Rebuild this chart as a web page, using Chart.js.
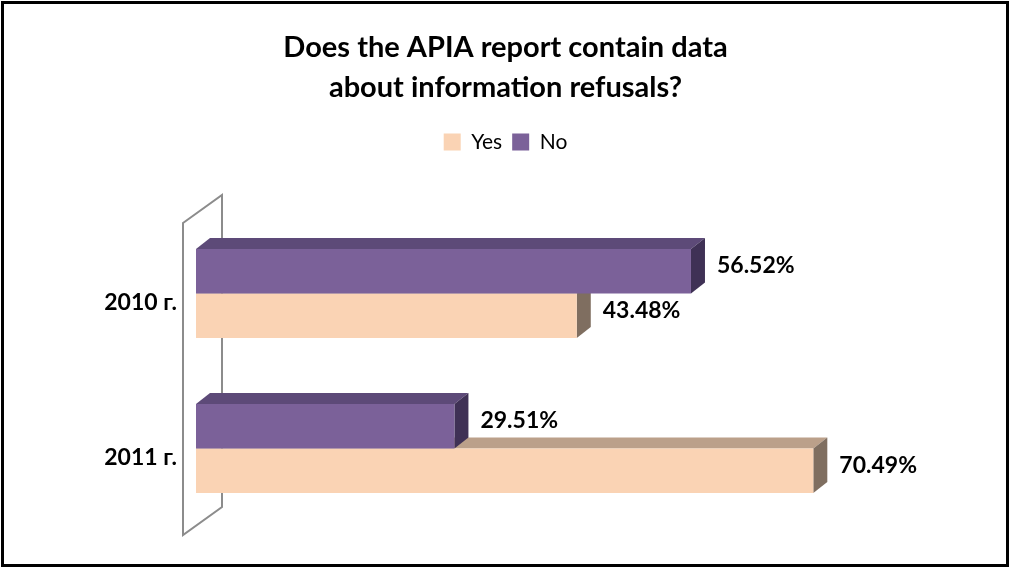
<!DOCTYPE html>
<html lang="en">
<head>
  <meta charset="UTF-8" />
  <title>APIA report – information refusals</title>
  <style>
    body {
      margin: 0;
      background: #fff;
    }
    #chart {
      display: block;
    }
  </style>
</head>
<body>

<canvas id="chart" width="1011" height="569"></canvas>

<script src="https://cdn.jsdelivr.net/npm/chart.js"></script>
<script>
  const categories = ['2010 г.', '2011 г.'];
  const yesValues = [43.48, 70.49];
  const noValues = [56.52, 29.51];

  const FONT = 'Lato, "Open Sans", sans-serif';
  const depth = {x: 14, y: -11};

  // fake 3D: top and side faces behind the flat bars, plus the back wall
  const bar3d = {
    id: 'bar3d',
    beforeDatasetsDraw(chart) {
      const ctx = chart.ctx;
      const area = chart.chartArea;
      ctx.save();

      // back wall outline
      const wl = area.left - 13, wr = area.left + 26;
      ctx.strokeStyle = '#8c8c8c';
      ctx.lineWidth = 2;
      ctx.beginPath();
      ctx.moveTo(wl, area.top + 7);
      ctx.lineTo(wr, area.top - 21);
      ctx.lineTo(wr, area.bottom - 19);
      ctx.lineTo(wl, area.bottom + 9);
      ctx.closePath();
      ctx.stroke();

      for (let d = chart.data.datasets.length - 1; d >= 0; d--) {
        const ds = chart.data.datasets[d];
        const meta = chart.getDatasetMeta(d);
        meta.data.forEach(bar => {
          const {x, y, base, height} = bar.getProps(['x', 'y', 'base', 'height'], true);
          const top = y - height / 2, bottom = y + height / 2;
          ctx.fillStyle = ds.topColor;
          ctx.beginPath();
          ctx.moveTo(base, top);
          ctx.lineTo(base + depth.x, top + depth.y);
          ctx.lineTo(x + depth.x, top + depth.y);
          ctx.lineTo(x, top);
          ctx.closePath();
          ctx.fill();

          ctx.fillStyle = ds.sideColor;
          ctx.beginPath();
          ctx.moveTo(x, top);
          ctx.lineTo(x + depth.x, top + depth.y);
          ctx.lineTo(x + depth.x, bottom + depth.y);
          ctx.lineTo(x, bottom);
          ctx.closePath();
          ctx.fill();
        });
      }
      ctx.restore();
    },
    afterDatasetsDraw(chart) {
      const ctx = chart.ctx;
      ctx.save();
      ctx.font = 'bold 23px ' + FONT;
      ctx.fillStyle = '#000';
      ctx.textAlign = 'left';
      ctx.textBaseline = 'middle';
      chart.data.datasets.forEach((ds, d) => {
        chart.getDatasetMeta(d).data.forEach((bar, i) => {
          ctx.fillText(ds.data[i].toFixed(2) + '%', bar.x + depth.x + 12, bar.y + depth.y / 2);
        });
      });
      ctx.restore();
    },
    afterDraw(chart) {
      const ctx = chart.ctx;
      ctx.save();
      ctx.strokeStyle = '#000';
      ctx.lineWidth = 3;
      ctx.strokeRect(2.5, 2.5, 1005, 563);
      ctx.restore();
    }
  };

  new Chart(document.getElementById('chart'), {
    type: 'bar',
    data: {
      labels: categories,
      datasets: [
        {
          label: 'No',
          data: noValues,
          backgroundColor: '#7b6199',
          topColor: '#5d4a78',
          sideColor: '#3f3155',
          categoryPercentage: 0.574,
          barPercentage: 1
        },
        {
          label: 'Yes',
          data: yesValues,
          backgroundColor: '#fad3b4',
          topColor: '#bba08a',
          sideColor: '#7f6e60',
          categoryPercentage: 0.574,
          barPercentage: 1
        }
      ]
    },
    options: {
      indexAxis: 'y',
      responsive: false,
      animation: false,
      layout: {padding: {top: 0, left: 0, right: 0, bottom: 43}},
      scales: {
        x: {
          position: 'top',
          min: 0,
          max: 80,
          ticks: {display: false},
          grid: {display: false},
          border: {display: false},
          afterFit: s => { s.height = 53.5; }
        },
        y: {
          ticks: {
            color: '#000',
            font: {family: FONT, size: 23, weight: 'bold'},
            padding: 11,
            labelOffset: 9
          },
          grid: {display: false},
          border: {display: false},
          afterFit: s => { s.width = 196; }
        },
        y2: {
          type: 'category',
          position: 'right',
          ticks: {display: false},
          grid: {display: false},
          border: {display: false},
          afterFit: s => { s.width = 114.4; }
        }
      },
      plugins: {
        title: {
          display: true,
          text: ['Does the APIA report contain data', 'about information refusals?'],
          color: '#000',
          font: {family: FONT, size: 29, weight: 'bold', lineHeight: 1.38},
          padding: {top: 28, bottom: 13.5}
        },
        legend: {
          reverse: true,
          labels: {
            color: '#000',
            font: {family: FONT, size: 21},
            boxWidth: 17,
            boxHeight: 17,
            padding: 10
          }
        },
        tooltip: {enabled: false}
      }
    },
    plugins: [bar3d]
  });
</script>

</body>
</html>
